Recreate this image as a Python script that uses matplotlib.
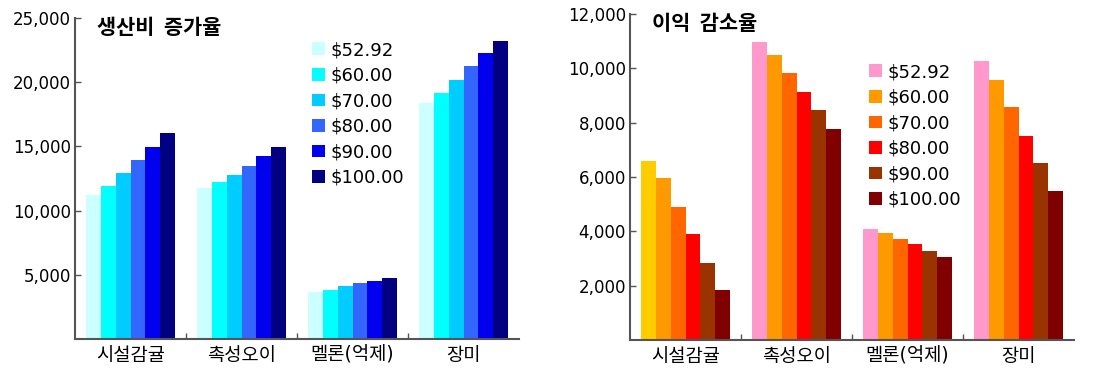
import matplotlib
matplotlib.use("Agg")
import matplotlib.pyplot as plt
from matplotlib.patches import Patch
import numpy as np

plt.rcParams['font.family'] = ['DejaVu Sans', 'Noto Sans CJK KR']

categories = ["시설감귤", "촉성오이", "멜론(억제)", "장미"]
series_labels = ["$52.92", "$60.00", "$70.00", "$80.00", "$90.00", "$100.00"]

# 생산비 증가율 (values per series, across categories)
cost_values = [
    [11200, 11750, 3650, 18400],
    [11950, 12200, 3850, 19150],
    [12950, 12800, 4100, 20150],
    [13950, 13500, 4330, 21250],
    [14950, 14250, 4530, 22250],
    [16050, 14950, 4750, 23200],
]
# 이익 감소율
profit_values = [
    [6600, 10980, 4100, 10280],
    [5950, 10500, 3950, 9560],
    [4900, 9820, 3730, 8560],
    [3900, 9130, 3520, 7520],
    [2850, 8450, 3260, 6520],
    [1850, 7780, 3060, 5480],
]

cost_colors = ["#CCFFFF", "#00FFFF", "#00CCFF", "#3366FF", "#0000EE", "#000080"]
profit_colors = ["#FF99CC", "#FF9900", "#FF6600", "#FF0000", "#993300", "#800000"]
first_bar_override = "#FFCC00"

fig = plt.figure(figsize=(11.01, 3.70), dpi=100)

def setup(ax, values, colors, ymax, yticks, title, leg_anchor, override=None):
    n = len(values)
    w = 0.8 / n
    x = np.arange(len(categories))
    for i, vals in enumerate(values):
        cols = [colors[i]] * len(vals)
        if override is not None and i == 0:
            cols[0] = override
        ax.bar(x - 0.4 + w * (i + 0.5), vals, width=w, color=cols, linewidth=0)
    ax.set_xlim(-0.5, len(categories) - 0.5)
    ax.set_ylim(0, ymax)
    ax.set_yticks(yticks)
    ax.set_yticklabels([f"{v:,}" for v in yticks], fontsize=12)
    ax.set_xticks(x)
    ax.set_xticklabels(categories, fontsize=13.5)
    ax.set_xticks(np.arange(0.5, len(categories) - 1, 1.0), minor=True)
    ax.tick_params(axis='x', which='major', length=0, pad=5)
    ax.tick_params(axis='x', which='minor', direction='in', length=4, color="#555555", width=1)
    ax.tick_params(axis='y', direction='in', length=4, color="#555555", width=1, pad=3)
    for s in ['top', 'right']:
        ax.spines[s].set_visible(False)
    for s in ['left', 'bottom']:
        ax.spines[s].set_color("#555555")
        ax.spines[s].set_linewidth(1.5)
    ax.text(0.05, 0.97, title, transform=ax.transAxes, fontsize=15, fontweight='bold',
            family=['Noto Sans CJK KR', 'DejaVu Sans'], va='center', ha='left')
    handles = [Patch(facecolor=c, edgecolor='none') for c in colors]
    ax.legend(handles, series_labels, loc='upper left', bbox_to_anchor=leg_anchor,
              bbox_transform=fig.transFigure, frameon=False, fontsize=13,
              handlelength=0.7, handleheight=0.7, handletextpad=0.3,
              labelspacing=0.42, borderpad=0, borderaxespad=0)

ax1 = fig.add_axes([75/1101, 1 - 339/370, 444/1101, 321/370])
setup(ax1, cost_values, cost_colors, 25000, [5000, 10000, 15000, 20000, 25000],
      "생산비  증가율", (312/1101, 1 - 41/370))

ax2 = fig.add_axes([630/1101, 1 - 340/370, 444/1101, 326/370])
setup(ax2, profit_values, profit_colors, 12000, [2000, 4000, 6000, 8000, 10000, 12000],
      "이익  감소율", (869/1101, 1 - 63/370), override=first_bar_override)

fig.savefig("out.png", dpi=100)
